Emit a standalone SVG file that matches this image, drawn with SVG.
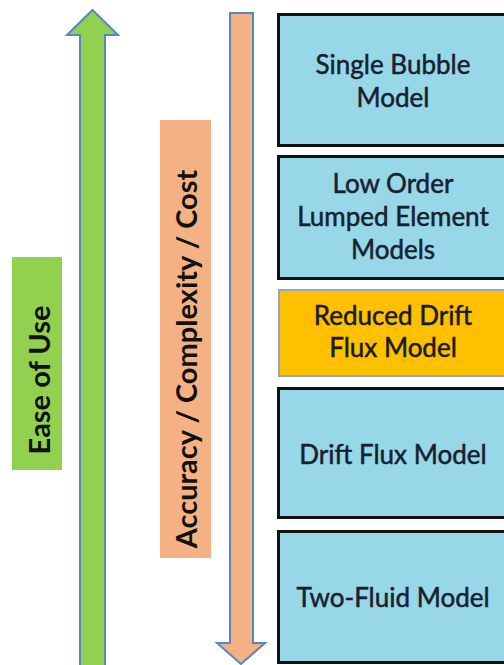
<svg xmlns="http://www.w3.org/2000/svg" width="504" height="665" viewBox="0 0 504 665">
<style>
.box{fill:#98D7E8;stroke:#111;stroke-width:3}
.ybox{fill:#FFC000;stroke:#8FA7C4;stroke-width:2}
.t{font-family:Lato,"Open Sans","Liberation Sans",sans-serif;font-size:26px;fill:#17212E;stroke:#17212E;stroke-width:0.5;text-anchor:middle}
.lbl{font-family:Lato,"Open Sans","Liberation Sans",sans-serif;font-size:29px;font-weight:bold;fill:#111;text-anchor:middle}
.arr{stroke:#5A86BC;stroke-width:2;stroke-linejoin:miter}
</style>
<rect width="504" height="665" fill="#fff"/>
<g id="arrows">
<path id="ease-arrow" class="arr" fill="#92D050" d="M92.5,10 L118,35 L105,35 L105,666 L80,666 L80,35 L67,35 Z"/>
<path id="accuracy-arrow" class="arr" fill="#F4B183" d="M230,13 L253,13 L253,643 L265,643 L241,664 L217,643 L230,643 Z"/>
</g>
<g id="ease-label">
<rect x="12" y="257" width="50" height="213" fill="#92D050"/>
<text class="lbl" transform="translate(50,380) rotate(-90)">Ease of Use</text>
</g>
<g id="accuracy-label">
<rect x="160" y="120" width="51" height="438" fill="#F4B183"/>
<text class="lbl" transform="translate(197,359) rotate(-90)">Accuracy / Complexity / Cost</text>
</g>
<g id="single-bubble">
<rect class="box" x="278.5" y="14.5" width="240" height="131"/>
<text class="t" x="393" y="74">Single Bubble</text>
<text class="t" x="393" y="107">Model</text>
</g>
<g id="low-order">
<rect class="box" x="278.5" y="156.5" width="240" height="122"/>
<text class="t" x="393" y="193">Low Order</text>
<text class="t" x="393" y="226">Lumped Element</text>
<text class="t" x="393" y="259">Models</text>
</g>
<g id="reduced-drift">
<rect class="ybox" x="279" y="290" width="240" height="86"/>
<text class="t" x="393" y="325" style="fill:#1a1a1a;stroke:#1a1a1a">Reduced Drift</text>
<text class="t" x="393" y="357" style="fill:#1a1a1a;stroke:#1a1a1a">Flux Model</text>
</g>
<g id="drift-flux">
<rect class="box" x="278.5" y="388.5" width="240" height="129"/>
<text class="t" x="393" y="464">Drift Flux Model</text>
</g>
<g id="two-fluid">
<rect class="box" x="278.5" y="531.5" width="240" height="131"/>
<text class="t" x="393" y="607">Two-Fluid Model</text>
</g>
</svg>
